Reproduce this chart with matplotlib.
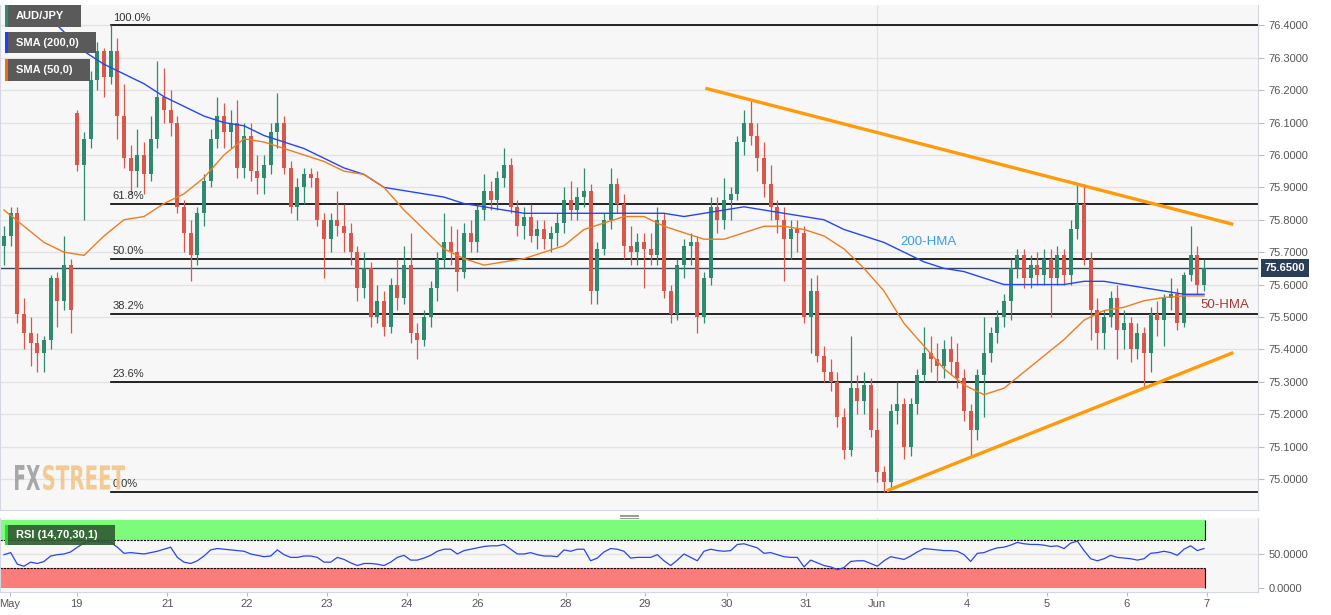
"""
AUD/JPY 2h candles with Fibonacci levels, SMA(200)/SMA(50) and RSI panel
"""

import numpy as np
import matplotlib.pyplot as plt
from matplotlib.patches import Rectangle, PathPatch
from matplotlib.textpath import TextPath
from matplotlib.font_manager import FontProperties
from matplotlib.transforms import Affine2D
from matplotlib.lines import Line2D

plt.rcParams['font.family'] = ['Liberation Sans', 'DejaVu Sans']

W, H = 1331, 615

# ---- price data (2h bars) ----
closes = [
    75.75, 75.82, 75.51, 75.45, 75.42, 75.39, 75.43, 75.62, 75.55, 75.66,
    75.52, 75.97, 76.05, 76.23, 76.32, 76.24, 76.32, 76.12, 75.99, 75.95,
    76.00, 75.94, 76.05, 76.18, 76.14, 76.10, 75.84, 75.76, 75.69, 75.82,
    75.92, 76.05, 76.12, 76.07, 76.10, 75.96, 76.06, 75.95, 75.93, 75.97,
    76.07, 76.10, 75.96, 75.84, 75.90, 75.94, 75.93, 75.80, 75.74, 75.80,
    75.78, 75.76, 75.70, 75.59, 75.65, 75.50, 75.55, 75.47, 75.60, 75.56,
    75.66, 75.45, 75.43, 75.50, 75.59, 75.68, 75.73, 75.70, 75.64, 75.76,
    75.73, 75.83, 75.89, 75.86, 75.93, 75.97, 75.84, 75.78, 75.81, 75.75,
    75.77, 75.74, 75.76, 75.79, 75.86, 75.83, 75.87, 75.89, 75.58, 75.71,
    75.80, 75.91, 75.85, 75.72, 75.70, 75.73, 75.71, 75.69, 75.80, 75.58,
    75.51, 75.66, 75.72, 75.73, 75.50, 75.62, 75.84, 75.80, 75.86, 75.88,
    76.04, 76.10, 76.06, 75.99, 75.91, 75.84, 75.80, 75.74, 75.77, 75.76,
    75.50, 75.58, 75.38, 75.33, 75.30, 75.19, 75.09, 75.28, 75.24, 75.29,
    75.15, 75.02, 74.99, 75.21, 75.23, 75.10, 75.23, 75.32, 75.39, 75.37,
    75.35, 75.40, 75.36, 75.31, 75.21, 75.15, 75.32, 75.39, 75.45, 75.50,
    75.55, 75.65, 75.69, 75.62, 75.66, 75.63, 75.68, 75.62, 75.69, 75.63,
    75.77, 75.85, 75.68, 75.52, 75.45, 75.50, 75.56, 75.46, 75.48, 75.40,
    75.45, 75.39, 75.51, 75.49, 75.56, 75.57, 75.48, 75.63, 75.69, 75.60,
    75.65]

highs = [
    75.78, 75.84, 75.84, 75.56, 75.50, 75.45, 75.44, 75.63, 75.64, 75.75,
    75.68, 76.14, 76.07, 76.26, 76.35, 76.33, 76.40, 76.36, 76.22, 76.03,
    76.08, 76.04, 76.12, 76.29, 76.27, 76.20, 76.12, 75.86, 75.80, 75.84,
    75.94, 76.08, 76.18, 76.16, 76.14, 76.17, 76.10, 76.10, 76.00, 76.00,
    76.10, 76.19, 76.12, 75.98, 75.93, 75.96, 75.96, 75.95, 75.82, 75.82,
    75.89, 75.85, 75.79, 75.72, 75.70, 75.67, 75.60, 75.58, 75.62, 75.68,
    75.72, 75.76, 75.48, 75.52, 75.61, 75.70, 75.82, 75.78, 75.77, 75.79,
    75.80, 75.85, 75.94, 75.92, 75.95, 76.02, 75.99, 75.86, 75.84, 75.85,
    75.80, 75.80, 75.78, 75.82, 75.90, 75.92, 75.90, 75.96, 75.91, 75.73,
    75.82, 75.96, 75.93, 75.88, 75.78, 75.76, 75.76, 75.76, 75.84, 75.82,
    75.60, 75.68, 75.74, 75.76, 75.75, 75.64, 75.87, 75.87, 75.93, 75.90,
    76.06, 76.14, 76.17, 76.10, 76.04, 75.97, 75.86, 75.84, 75.80, 75.80,
    75.78, 75.62, 75.63, 75.41, 75.37, 75.33, 75.22, 75.44, 75.32, 75.33,
    75.31, 75.22, 75.04, 75.23, 75.30, 75.25, 75.25, 75.34, 75.47, 75.44,
    75.42, 75.43, 75.44, 75.42, 75.34, 75.23, 75.34, 75.50, 75.47, 75.52,
    75.57, 75.68, 75.71, 75.71, 75.69, 75.70, 75.71, 75.71, 75.72, 75.71,
    75.80, 75.91, 75.91, 75.70, 75.56, 75.52, 75.58, 75.60, 75.52, 75.50,
    75.48, 75.47, 75.53, 75.55, 75.57, 75.62, 75.59, 75.64, 75.78, 75.72,
    75.68]

lows = [
    75.66, 75.72, 75.48, 75.40, 75.35, 75.33, 75.33, 75.40, 75.47, 75.52,
    75.45, 75.95, 75.80, 76.02, 76.20, 76.18, 76.22, 76.05, 75.96, 75.88,
    75.90, 75.88, 75.92, 76.02, 76.10, 76.06, 75.82, 75.70, 75.61, 75.66,
    75.78, 75.90, 76.02, 76.02, 76.02, 75.93, 75.93, 75.92, 75.88, 75.88,
    75.94, 76.02, 75.94, 75.82, 75.80, 75.85, 75.90, 75.78, 75.62, 75.70,
    75.75, 75.70, 75.66, 75.55, 75.56, 75.47, 75.48, 75.44, 75.45, 75.52,
    75.54, 75.42, 75.37, 75.41, 75.47, 75.55, 75.65, 75.66, 75.58, 75.62,
    75.70, 75.70, 75.80, 75.83, 75.83, 75.90, 75.82, 75.75, 75.74, 75.73,
    75.71, 75.71, 75.70, 75.72, 75.76, 75.80, 75.80, 75.84, 75.54, 75.54,
    75.69, 75.77, 75.82, 75.68, 75.66, 75.66, 75.59, 75.66, 75.66, 75.56,
    75.48, 75.49, 75.62, 75.66, 75.45, 75.48, 75.60, 75.76, 75.77, 75.80,
    75.86, 76.00, 76.03, 75.95, 75.87, 75.80, 75.76, 75.61, 75.68, 75.70,
    75.48, 75.39, 75.36, 75.30, 75.27, 75.16, 75.06, 75.07, 75.20, 75.20,
    75.13, 74.99, 74.96, 74.97, 75.17, 75.06, 75.07, 75.20, 75.30, 75.33,
    75.30, 75.31, 75.32, 75.28, 75.18, 75.07, 75.12, 75.19, 75.36, 75.42,
    75.47, 75.49, 75.62, 75.59, 75.59, 75.60, 75.60, 75.50, 75.60, 75.60,
    75.60, 75.74, 75.66, 75.43, 75.40, 75.40, 75.47, 75.37, 75.40, 75.36,
    75.37, 75.28, 75.33, 75.44, 75.41, 75.52, 75.46, 75.47, 75.61, 75.57,
    75.58]

# each bar opens at the previous close, except the weekend gap
opens = [75.72] + closes[:-1]
opens[11] = 76.13

# moving averages, sampled every 3rd bar
sma200 = [
    76.56, 76.50, 76.44, 76.38, 76.32, 76.28, 76.25, 76.22, 76.18, 76.15,
    76.12, 76.10, 76.09, 76.06, 76.04, 76.02, 75.99, 75.96, 75.94, 75.90,
    75.89, 75.88, 75.87, 75.85, 75.84, 75.83, 75.82, 75.82, 75.82, 75.82,
    75.82, 75.82, 75.82, 75.82, 75.81, 75.82, 75.83, 75.84, 75.83, 75.82,
    75.81, 75.80, 75.77, 75.75, 75.73, 75.70, 75.67, 75.65, 75.64, 75.62,
    75.60, 75.60, 75.60, 75.60, 75.61, 75.61, 75.60, 75.59, 75.58, 75.57,
    75.57]
sma50 = [
    75.83, 75.78, 75.73, 75.70, 75.69, 75.75, 75.80, 75.81, 75.85, 75.88,
    75.93, 76.00, 76.05, 76.04, 76.02, 76.00, 75.98, 75.95, 75.94, 75.90,
    75.83, 75.77, 75.71, 75.68, 75.66, 75.67, 75.68, 75.70, 75.72, 75.77,
    75.79, 75.81, 75.81, 75.78, 75.76, 75.74, 75.74, 75.76, 75.78, 75.78,
    75.77, 75.75, 75.71, 75.65, 75.58, 75.48, 75.41, 75.34, 75.29, 75.26,
    75.28, 75.33, 75.38, 75.43, 75.49, 75.52, 75.53, 75.55, 75.56, 75.565,
    75.565]

rsi = [
    49, 52, 35, 32, 38, 36, 39, 47, 49, 50, 53, 60, 66, 69, 68, 67, 67, 60, 51, 52,
    51, 50, 52, 54, 57, 60, 45, 38, 36, 40, 47, 56, 58, 57, 56, 55, 54, 50, 48, 46,
    47, 56, 49, 45, 45, 47, 47, 45, 38, 38, 45, 42, 37, 33, 36, 36, 35, 33, 38, 45,
    48, 41, 41, 44, 48, 54, 57, 57, 50, 55, 57, 59, 61, 62, 62, 64, 57, 50, 50, 52,
    49, 47, 47, 46, 56, 54, 57, 57, 40, 44, 53, 58, 57, 54, 44, 45, 45, 45, 49, 40,
    33, 41, 50, 45, 40, 54, 57, 55, 54, 55, 64, 65, 62, 59, 51, 52, 49, 46, 45, 45,
    31, 41, 37, 33, 31, 27, 30, 39, 40, 40, 36, 32, 40, 46, 44, 42, 47, 53, 58, 57,
    56, 55, 55, 54, 49, 39, 51, 52, 56, 59, 60, 63, 67, 65, 64, 64, 63, 61, 62, 58,
    66, 69, 55, 43, 40, 43, 48, 45, 44, 43, 41, 43, 51, 52, 54, 52, 48, 57, 62, 55,
    58]

day_ticks = [0.9, 10.9, 24.5, 36.4, 48.4, 60.4, 71.1, 84.3, 96.1, 108.4,
             120.3, 130.9, 144.4, 156.4, 168.4, 180.4]
day_labels = ['May', '19', '21', '22', '23', '24', '26', '28', '29', '30',
              '31', 'Jun', '4', '5', '6', '7']

fib_ratios = [1.0, 0.618, 0.5, 0.382, 0.236, 0.0]
fib_labels = ['100.0%', '61.8%', '50.0%', '38.2%', '23.6%', '0.0%']

last_price = 75.65

GREEN = '#2e8b6f'
RED = '#d8574a'
BG = '#f7f7f7'
GRID = '#e3e3e3'


def fx(px):
    return px / W


def fy(py):
    return 1 - py / H


fig = plt.figure(figsize=(W / 100, H / 100), dpi=100, facecolor='white')
ax = fig.add_axes([0, fy(510), fx(1258), fy(5) - fy(510)])
rx = fig.add_axes([0, fy(592), fx(1258), fy(518) - fy(592)], sharex=ax)

x = np.arange(len(closes))
o, h, l, c = map(np.array, (opens, highs, lows, closes))
col = np.where(c >= o, GREEN, RED)

# ---- main panel ----
ax.set_facecolor(BG)
ax.set_xlim(-0.6, 188.1)
ax.set_ylim(74.904, 76.463)
ax.set_yticks(np.round(np.arange(75.0, 76.41, 0.1), 1))
ax.yaxis.set_major_formatter(plt.FormatStrFormatter('%.4f'))
ax.yaxis.tick_right()
ax.tick_params(axis='y', colors='#bbbbbb', labelcolor='#555555', labelsize=8, length=4)
ax.tick_params(axis='x', bottom=False, labelbottom=False)
ax.grid(axis='y', color=GRID, lw=1)
ax.axvline(day_ticks[11], color=GRID, lw=1)
ax.set_axisbelow(True)
for s in ('top',):
    ax.spines[s].set_visible(False)
for s in ('left', 'right', 'bottom'):
    ax.spines[s].set_color('#d3d8e0')

ax.vlines(x, l, h, colors=col, lw=0.9, zorder=3)
ax.bar(x, np.maximum(np.abs(c - o), 0.004), bottom=np.minimum(o, c), width=0.62,
       color=col, lw=0, zorder=4)

ma_x = x[::3]
ax.plot(ma_x, sma200, color='#2546f0', lw=1, zorder=5)
ax.plot(ma_x, sma50, color='#f07c20', lw=1, zorder=5)

# fibonacci retracement from swing high to swing low
hi_i = int(np.argmax(h))
hi, lo = h.max(), l.min()
for r, lab in zip(fib_ratios, fib_labels):
    lvl = lo + r * (hi - lo)
    ax.plot([hi_i, 188.1], [lvl, lvl], color='black', lw=1.2, zorder=2)
    ax.text(hi_i + 0.3, lvl + 0.008, lab, fontsize=8, color='#333333', va='bottom')

# trend lines touching two swing points each
def trend(vals, i1, i2, x0, x1):
    k = (vals[i2] - vals[i1]) / (i2 - i1)
    return [x0, x1], [vals[i1] + k * (x0 - i1), vals[i1] + k * (x1 - i1)]

tx, ty = trend(highs, 112, 161, 105.2, 184.4)
ax.plot(tx, ty, color='#ff9a0a', lw=2.4, zorder=6, solid_capstyle='butt')
tx, ty = trend(lows, 132, 171, 132.4, 184.4)
ax.plot(tx, ty, color='#ff9a0a', lw=2.4, zorder=6, solid_capstyle='butt')

ax.text(134.4, 75.73, '200-HMA', color='#3b9be6', fontsize=9.5, va='center', zorder=7)
ax.text(179.4, 75.537, '50-HMA', color='#a83636', fontsize=9.5, va='center', zorder=7)

ax.axhline(last_price, color='#34495e', lw=1, zorder=2)
ax.annotate(f'{last_price:.4f}', xy=(1.0, last_price), xycoords=('axes fraction', 'data'),
            xytext=(5, 0), textcoords='offset points', va='center', ha='left',
            color='white', fontsize=8, fontweight='bold', annotation_clip=False,
            bbox=dict(boxstyle='square,pad=0.35', fc='#2c3e57', ec='none'))

# ---- RSI panel ----
rx.set_facecolor(BG)
rx.set_ylim(-5.9, 102.9)
band_end = 180.2
rx.add_patch(Rectangle((-0.6, 70), band_end + 0.6, 30, fc='#7dfb7b', ec='none', zorder=1))
rx.add_patch(Rectangle((-0.6, 0), band_end + 0.6, 30, fc='#fa7c7b', ec='none', zorder=1))
rx.hlines([70, 30], -0.6, band_end, colors='black', lw=0.8, linestyles=(0, (2, 1)), zorder=2)
rx.vlines(band_end, 70, 100, colors='black', lw=0.8, zorder=2)
rx.vlines(band_end, 0, 30, colors='black', lw=0.8, zorder=2)
rx.axhline(50, color=GRID, lw=1, zorder=0)
rx.axvline(day_ticks[11], color=GRID, lw=1, zorder=0)
rx.plot(x, rsi, color='#2a45e8', lw=0.9, zorder=3)
rx.yaxis.tick_right()
rx.set_yticks([0, 50])
rx.yaxis.set_major_formatter(plt.FormatStrFormatter('%.4f'))
rx.tick_params(axis='y', colors='#bbbbbb', labelcolor='#555555', labelsize=8, length=4)
rx.set_xticks(day_ticks)
rx.set_xticklabels(day_labels)
rx.tick_params(axis='x', colors='#bbbbbb', labelcolor='#555555', labelsize=8, length=3, pad=2)
rx.spines['top'].set_visible(False)
for s in ('left', 'right', 'bottom'):
    rx.spines[s].set_color('#d3d8e0')

# ---- legend boxes ----
def tag(x0, y0, x1, y1, stripe, label, fc='#5a5a5a', alpha=1.0):
    fig.patches.append(Rectangle((fx(x0), fy(y1)), fx(x1 - x0), (y1 - y0) / H,
                                 transform=fig.transFigure, fc=fc, ec='none',
                                 alpha=alpha, zorder=10))
    fig.patches.append(Rectangle((fx(x0), fy(y1)), fx(3), (y1 - y0) / H,
                                 transform=fig.transFigure, fc=stripe, ec='none', zorder=11))
    fig.text(fx(x0 + 11), fy((y0 + y1) / 2), label, color='white', fontsize=8,
             fontweight='bold', va='center', zorder=12)

tag(5, 5, 81, 27, '#2e8b6f', 'AUD/JPY')
tag(5, 32, 96, 53, '#1f3cff', 'SMA (200,0)')
tag(5, 59, 90, 81, '#f06a10', 'SMA (50,0)')
tag(5, 525, 115, 545, '#22e022', 'RSI (14,70,30,1)', fc='#2f5a30', alpha=0.9)

# ---- watermark ----
px_tr = Affine2D().scale(1 / W, 1 / H) + fig.transFigure


def stamp(txt, x0, y0, x1, y1, color):
    tp = TextPath((0, 0), txt, size=10, prop=FontProperties(family='DejaVu Sans', weight='bold'))
    e = tp.get_extents()
    tr = (Affine2D().translate(-e.x0, -e.y0)
          .scale((x1 - x0) / e.width, (y1 - y0) / e.height)
          .translate(x0, H - y1))
    fig.patches.append(PathPatch(tr.transform_path(tp), transform=px_tr, fc=color,
                                 ec='none', alpha=0.85, zorder=9))

stamp('FX', 15, 465, 40, 490, '#9b9b9b')
stamp('STREET', 43, 465, 125, 490, '#f2c381')

# panel drag handle
for yy in (514.5, 516, 517.5):
    fig.lines.append(Line2D([fx(620), fx(638)], [fy(yy), fy(yy)], transform=fig.transFigure,
                            color='#888888', lw=0.6))

fig.savefig('out.png', dpi=100, facecolor='white')
